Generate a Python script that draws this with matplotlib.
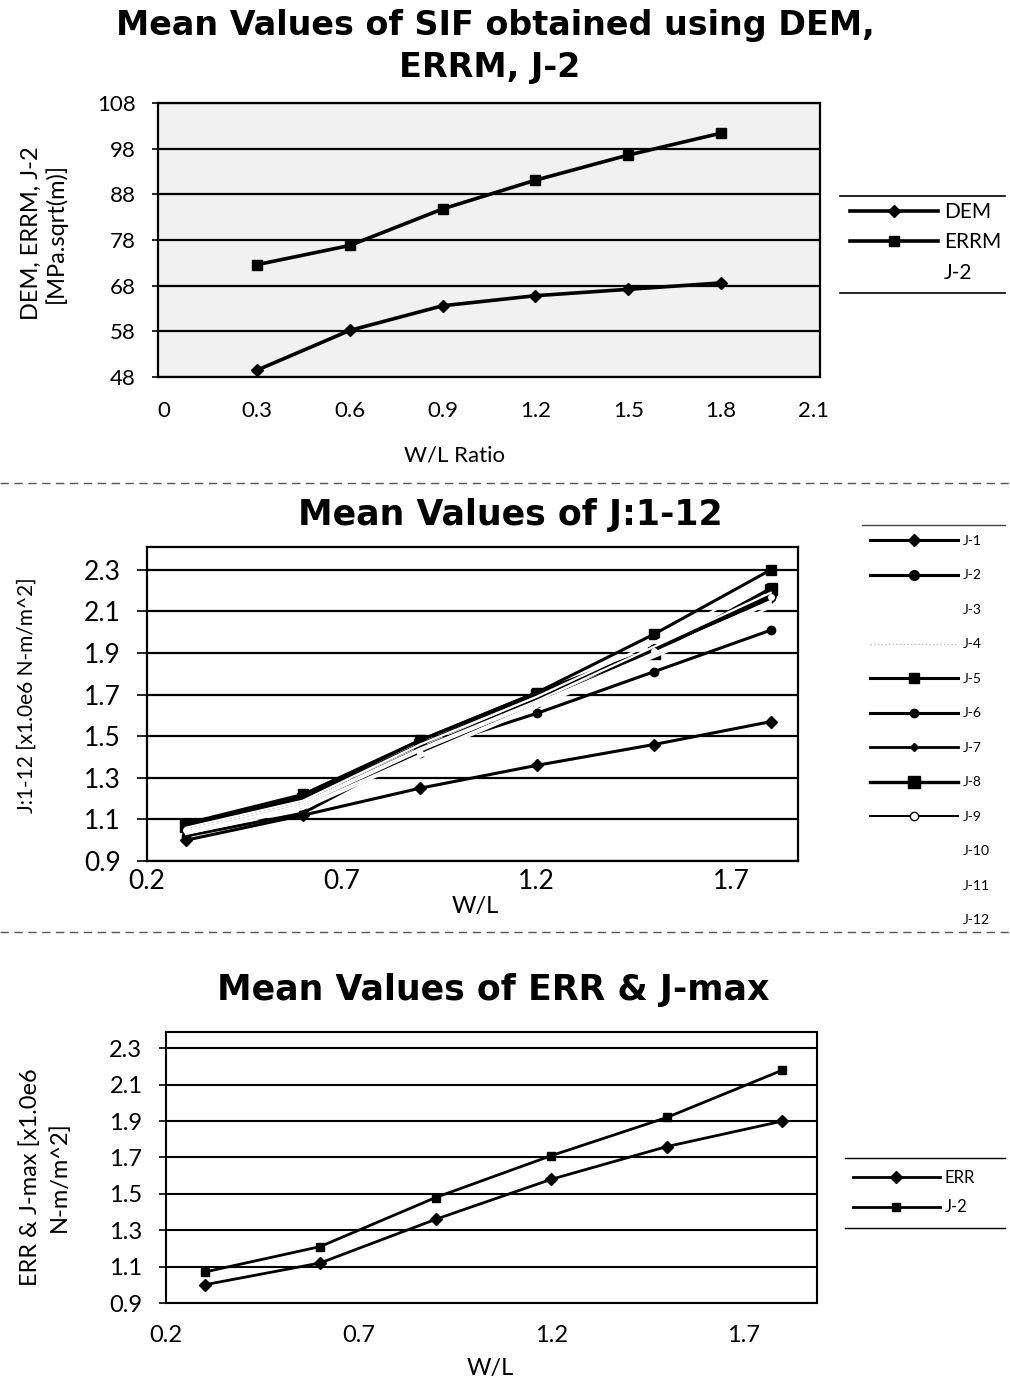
import matplotlib.pyplot as plt
from matplotlib.lines import Line2D

# ---- data ----
w_l = [0.3, 0.6, 0.9, 1.2, 1.5, 1.8]

# panel 1: SIF
dem = [49.5, 58.2, 63.6, 65.8, 67.2, 68.6]
errm = [72.6, 76.8, 84.8, 91.1, 96.6, 101.4]
top_xticks = [0, 0.3, 0.6, 0.9, 1.2, 1.5, 1.8, 2.1]
top_xlabels = ['0', '0.3', '0.6', '0.9', '1.2', '1.5', '1.8', '2.1']
top_yticks = [48, 58, 68, 78, 88, 98, 108]

# panel 2: J:1-12
j1 = [1.00, 1.12, 1.25, 1.36, 1.46, 1.57]
j2 = [1.07, 1.21, 1.48, 1.71, 1.92, 2.18]
j5 = [1.08, 1.22, 1.48, 1.71, 1.99, 2.30]
j6 = [1.02, 1.13, 1.43, 1.61, 1.81, 2.01]
j7 = [1.06, 1.18, 1.44, 1.68, 1.92, 2.16]
j8 = [1.07, 1.20, 1.46, 1.70, 1.90, 2.21]
j9 = [1.05, 1.17, 1.42, 1.66, 1.91, 2.17]
# faint series (print as white in the scan)
j3 = [1.06, 1.19, 1.46, 1.69, 1.95, 2.25]
j4 = [1.04, 1.16, 1.41, 1.65, 1.89, 2.14]
j10 = [1.03, 1.15, 1.40, 1.64, 1.88, 2.12]
j11 = [1.05, 1.18, 1.44, 1.67, 1.93, 2.19]
j12 = [1.04, 1.17, 1.43, 1.66, 1.90, 2.15]
mid_xticks = [0.2, 0.7, 1.2, 1.7]
mid_yticks = [0.9, 1.1, 1.3, 1.5, 1.7, 1.9, 2.1, 2.3]

# panel 3: ERR & J-max
err = [1.00, 1.12, 1.36, 1.58, 1.76, 1.90]
jmax = [1.07, 1.21, 1.48, 1.71, 1.92, 2.18]

TICKFONT = 'Lato'
TITLEFONT = 'DejaVu Sans'

fig = plt.figure(figsize=(10.1, 13.88), dpi=100)


def px(x0, y0, x1, y1):
    # pixel box -> figure fraction rect
    W, H = 1010, 1388
    return [x0 / W, 1 - y1 / H, (x1 - x0) / W, (y1 - y0) / H]


def style_axes(ax, lw=1.6):
    for s in ax.spines.values():
        s.set_color('black')
        s.set_linewidth(lw)
    ax.grid(True, axis='y', color='black', linewidth=lw)
    ax.set_axisbelow(True)
    ax.tick_params(axis='x', length=0)


def hline(y, x0, x1, **kw):
    fig.add_artist(Line2D([x0 / 1010, x1 / 1010], [1 - y / 1388, 1 - y / 1388],
                          transform=fig.transFigure, **kw))


# ===== panel 1 =====
ax1 = fig.add_axes(px(158, 103, 820, 377))
ax1.set_facecolor('#f1f1f1')
ax1.plot(w_l, dem, color='black', lw=2.6, marker='D', ms=6, label='DEM')
ax1.plot(w_l, errm, color='black', lw=2.6, marker='s', ms=7, label='ERRM')
ax1.plot([], [], color='none', label='J-2')
ax1.set_xlim(-0.02, 2.12)
ax1.set_ylim(48, 108)
ax1.set_xticks(top_xticks)
ax1.set_xticklabels(top_xlabels)
ax1.set_yticks(top_yticks)
style_axes(ax1)
ax1.tick_params(axis='y', length=4, width=1.2, pad=12)
ax1.tick_params(axis='x', pad=17)
for t in ax1.get_xticklabels() + ax1.get_yticklabels():
    t.set_fontfamily(TICKFONT)
    t.set_fontsize(16)
ax1.legend(loc='upper left', bbox_to_anchor=(850 / 1010, 1 - 202 / 1388),
           bbox_transform=fig.transFigure, frameon=False, borderpad=0,
           borderaxespad=0, handlelength=4.2, handletextpad=0.3,
           labelspacing=0.5, prop={'family': TICKFONT, 'size': 15})
hline(196, 840, 1005, color='black', lw=1.2)
hline(293, 840, 1005, color='black', lw=1.2)

fig.text(495 / 1010, 1 - 25 / 1388, 'Mean Values of SIF obtained using DEM,', ha='center',
         va='center', fontsize=24, fontweight='bold', family=TITLEFONT)
fig.text(490 / 1010, 1 - 68 / 1388, 'ERRM, J-2', ha='center', va='center', fontsize=24,
         fontweight='bold', family=TITLEFONT)
fig.text(44 / 1010, 1 - 233 / 1388, 'DEM, ERRM, J-2\n[MPa.sqrt(m)]', rotation=90,
         ha='center', va='center', fontsize=17, family=TICKFONT, linespacing=1.15)
fig.text(455 / 1010, 1 - 456 / 1388, 'W/L Ratio', ha='center', va='center',
         fontsize=16, family=TICKFONT)

hline(483, 0, 1010, color='#555555', lw=1.0, linestyle=(0, (6, 4)))

# ===== panel 2 =====
ax2 = fig.add_axes(px(147, 547, 798, 861))
ax2.set_facecolor('white')
for ys in [j3, j4, j10, j11, j12]:
    ax2.plot(w_l, ys, color='white', lw=1.6, zorder=4)
ax2.plot(w_l, j1, color='black', lw=2.2, marker='D', ms=6, label='J-1', zorder=3)
ax2.plot(w_l, j2, color='black', lw=2.2, marker='o', ms=7, label='J-2', zorder=3)
ax2.plot([], [], color='none', label='J-3')
ax2.plot([], [], color='#bbbbbb', lw=1, linestyle=':', label='J-4')
ax2.plot(w_l, j5, color='black', lw=2.2, marker='s', ms=7, label='J-5', zorder=3)
ax2.plot(w_l, j6, color='black', lw=2.2, marker='o', ms=6, label='J-6', zorder=3)
ax2.plot(w_l, j7, color='black', lw=2.0, marker='D', ms=4, label='J-7', zorder=3)
ax2.plot(w_l, j8, color='black', lw=2.4, marker='s', ms=8, label='J-8', zorder=3)
ax2.plot(w_l, j9, color='black', lw=1.4, marker='o', ms=6, mfc='white', label='J-9', zorder=3)
for lab in ['J-10', 'J-11', 'J-12']:
    ax2.plot([], [], color='none', label=lab)
ax2.set_xlim(0.2, 1.87)
ax2.set_ylim(0.9, 2.41)
ax2.set_xticks(mid_xticks)
ax2.set_xticklabels([f'{v:g}' for v in mid_xticks])
ax2.set_yticks(mid_yticks)
ax2.set_yticklabels([f'{v:.1f}' for v in mid_yticks])
style_axes(ax2)
ax2.tick_params(axis='y', length=7, width=1.2, pad=12)
ax2.tick_params(axis='x', pad=6)
for t in ax2.get_xticklabels() + ax2.get_yticklabels():
    t.set_fontfamily(TICKFONT)
    t.set_fontsize(19)
ax2.legend(loc='upper left', bbox_to_anchor=(870 / 1010, 1 - 535 / 1388),
           bbox_transform=fig.transFigure, frameon=False, borderpad=0,
           borderaxespad=0, handlelength=6.3, handletextpad=0.4,
           labelspacing=1.62, prop={'family': TICKFONT, 'size': 10})
hline(525, 862, 1005, color='#444444', lw=1.0)

fig.text(510 / 1010, 1 - 515 / 1388, 'Mean Values of J:1-12', ha='center',
         va='center', fontsize=25, fontweight='bold', family=TITLEFONT)
fig.text(27 / 1010, 1 - 695 / 1388, 'J:1-12 [x1.0e6 N-m/m^2]', rotation=90,
         ha='center', va='center', fontsize=15, family=TICKFONT)
fig.text(475 / 1010, 1 - 907 / 1388, 'W/L', ha='center', va='center',
         fontsize=17, family=TICKFONT)

hline(932, 0, 1010, color='#555555', lw=1.0, linestyle=(0, (6, 4)))

# ===== panel 3 =====
ax3 = fig.add_axes(px(166, 1032, 817, 1303))
ax3.set_facecolor('white')
ax3.plot(w_l, err, color='black', lw=2.0, marker='D', ms=6, label='ERR')
ax3.plot(w_l, jmax, color='black', lw=2.0, marker='s', ms=6, label='J-2')
ax3.set_xlim(0.2, 1.89)
ax3.set_ylim(0.9, 2.39)
ax3.set_xticks(mid_xticks)
ax3.set_xticklabels([f'{v:g}' for v in mid_xticks])
ax3.set_yticks(mid_yticks)
ax3.set_yticklabels([f'{v:.1f}' for v in mid_yticks])
style_axes(ax3, lw=1.5)
ax3.tick_params(axis='y', length=5, width=1.2, pad=12)
ax3.tick_params(axis='x', pad=16)
for t in ax3.get_xticklabels() + ax3.get_yticklabels():
    t.set_fontfamily(TICKFONT)
    t.set_fontsize(17)
ax3.legend(loc='upper left', bbox_to_anchor=(853 / 1010, 1 - 1170 / 1388),
           bbox_transform=fig.transFigure, frameon=False, borderpad=0,
           borderaxespad=0, handlelength=5.2, handletextpad=0.3,
           labelspacing=0.8, prop={'family': TICKFONT, 'size': 12})
hline(1158, 845, 1005, color='black', lw=1.0)
hline(1228, 845, 1005, color='black', lw=1.0)

fig.text(493 / 1010, 1 - 990 / 1388, 'Mean Values of ERR & J-max', ha='center',
         va='center', fontsize=25, fontweight='bold', family=TITLEFONT)
fig.text(45 / 1010, 1 - 1177 / 1388, 'ERR & J-max [x1.0e6\nN-m/m^2]', rotation=90,
         ha='center', va='center', fontsize=17, family=TICKFONT, linespacing=1.4)
fig.text(490 / 1010, 1 - 1368 / 1388, 'W/L', ha='center', va='center',
         fontsize=17, family=TICKFONT)

fig.savefig('out.png', dpi=100)
